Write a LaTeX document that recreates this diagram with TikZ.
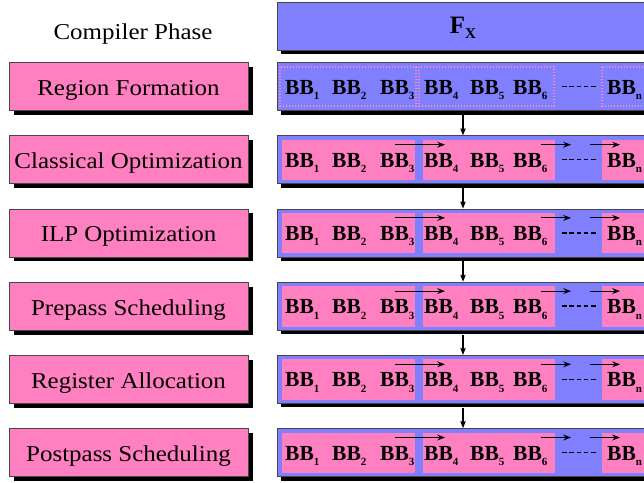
\documentclass[tikz,border=0pt]{standalone}
\usepackage{fontspec}
\setmainfont{Liberation Serif}
\newfontfamily\lblfont[FakeStretch=1.1]{Liberation Serif}
\usetikzlibrary{arrows.meta,shadows}
\definecolor{pinkfill}{RGB}{255,128,192}
\definecolor{bluefill}{RGB}{128,128,255}
\definecolor{dotpink}{RGB}{255,140,200}
\definecolor{edgecol}{RGB}{70,70,70}
\newcommand{\bbsub}[1]{BB{\fontsize{11}{11}\selectfont\raisebox{-5.5pt}{#1}}}
\begin{document}
\begin{tikzpicture}[x=1pt,y=-1pt,
  phasebox/.style={draw=edgecol,line width=0.8pt,fill=pinkfill,minimum width=239pt,minimum height=48pt,
    inner sep=0pt,text height=18pt,text depth=0pt,font=\lblfont\fontsize{22.7}{22.7}\selectfont,
    drop shadow={shadow xshift=4.5pt,shadow yshift=-4.5pt,opacity=1,fill=black}},
  rowbox/.style={draw=edgecol,line width=0.8pt,fill=bluefill,minimum width=393pt,minimum height=48pt,
    inner sep=0pt,drop shadow={shadow xshift=4pt,shadow yshift=-4pt,opacity=1,fill=black}},
  bb/.style={font=\fontsize{21.5}{21.5}\selectfont\bfseries,anchor=base west,inner sep=0pt},
  smallarrow/.style={-{Stealth[length=8pt,width=6pt,inset=3pt]},line width=0.9pt},
  vertarrow/.style={-{Stealth[length=13pt,width=10.5pt,inset=9pt,fill=gray]},line width=1.6pt},
  dotbox/.style={dotpink,line width=1.3pt,dash pattern=on 1.3pt off 1.7pt},
  dashline/.style={line width=1.5pt,dash pattern=on 4.5pt off 2.8pt}]
\useasboundingbox (0,0) rectangle (644,482);
\clip (0,0) rectangle (644,482);

\node[font=\lblfont\fontsize{22.7}{22.7}\selectfont,anchor=base,inner sep=0pt] (title) at (133,39.5) {Compiler Phase};
\node[rowbox] (fxbox) at (473.5,26) {};
\node[anchor=base,inner sep=0pt,font=\fontsize{25}{25}\selectfont\bfseries] (fx) at (463,33)
  {F\raisebox{-5pt}{\fontsize{15}{15}\selectfont X}};

\foreach \k/\name in {0/Region Formation,1/Classical Optimization,2/ILP Optimization,
                      3/Prepass Scheduling,4/Register Allocation,5/Postpass Scheduling}{
  \pgfmathsetmacro\cy{86.5+73.2*\k}
  \node[phasebox] (p\k) at (128.5,\cy) {\name};
  \node[rowbox] (r\k) at (473.5,\cy) {};
  \ifnum\k=0
    \draw[dotbox] (280,\cy-19.5) rectangle (416,\cy+19.5);
    \draw[dotbox] (419,\cy-19.5) rectangle (554,\cy+19.5);
    \draw[dotbox] (602,\cy-19.5) rectangle (660,\cy+19.5);
  \else
    \fill[pinkfill] (282,\cy-20) rectangle (415,\cy+20.5);
    \fill[pinkfill] (423,\cy-20) rectangle (555,\cy+20.5);
    \fill[pinkfill] (602,\cy-20) rectangle (660,\cy+20.5);
  \fi
  \node[bb] (a\k) at (285,\cy+7.5) {\bbsub{1}};
  \node[bb] (b\k) at (332,\cy+7.5) {\bbsub{2}};
  \node[bb] (c\k) at (380,\cy+7.5) {\bbsub{3}};
  \node[bb] (d\k) at (424,\cy+7.5) {\bbsub{4}};
  \node[bb] (e\k) at (470,\cy+7.5) {\bbsub{5}};
  \node[bb] (f\k) at (513,\cy+7.5) {\bbsub{6}};
  \node[bb] (n\k) at (607,\cy+7.5) {\bbsub{n}};
  \coordinate (dl\k) at (562,\cy);
  \coordinate (dr\k) at (597,\cy);
  \draw[dashline] (dl\k) -- (dr\k);
  \ifnum\k>0
    \coordinate (s1\k) at (395,\cy-15);
    \coordinate (t1\k) at (445,\cy-15);
    \coordinate (s2\k) at (541,\cy-15);
    \coordinate (t2\k) at (571,\cy-15);
    \coordinate (s3\k) at (590,\cy-15);
    \coordinate (t3\k) at (620,\cy-15);
    \draw[smallarrow] (s1\k) -- (t1\k);
    \draw[smallarrow] (s2\k) -- (t2\k);
    \draw[smallarrow] (s3\k) -- (t3\k);
  \fi
}

\foreach \k [evaluate=\k as \kk using int(\k+1)] in {0,...,4}{
  \draw[vertarrow] ([yshift=-4pt]r\k.south -| fx.center) -- (r\kk.north -| fx.center);
}
\end{tikzpicture}
\end{document}
